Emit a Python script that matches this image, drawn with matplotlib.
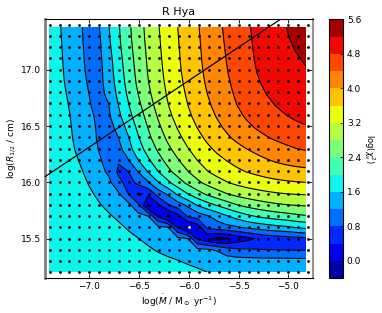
import numpy as np
import matplotlib
matplotlib.use("Agg")
import matplotlib.pyplot as plt

# log(chi^2), rows from the top (high R) to the bottom
chi_rows = [
    [1.80,1.62,1.44,1.27,1.05,1.17,1.59,1.98,2.34,2.65,2.93,3.19,3.40,3.61,3.79,3.98,4.15,4.32,4.48,4.62,4.76,4.88,4.99,5.10,5.21,5.30,5.39],
    [1.81,1.64,1.46,1.28,1.07,1.13,1.56,1.95,2.31,2.63,2.91,3.16,3.38,3.59,3.77,3.95,4.13,4.30,4.46,4.60,4.74,4.86,4.97,5.07,5.17,5.27,5.36],
    [1.82,1.65,1.47,1.30,1.08,1.11,1.50,1.92,2.28,2.59,2.88,3.14,3.36,3.58,3.75,3.94,4.11,4.28,4.43,4.57,4.73,4.85,4.96,5.05,5.13,5.21,5.28],
    [1.83,1.66,1.48,1.31,1.10,1.09,1.43,1.87,2.23,2.56,2.86,3.12,3.34,3.56,3.74,3.93,4.10,4.26,4.42,4.56,4.70,4.84,4.93,5.01,5.09,5.16,5.23],
    [1.84,1.67,1.50,1.33,1.12,1.07,1.41,1.83,2.17,2.54,2.83,3.09,3.32,3.54,3.73,3.91,4.08,4.23,4.39,4.54,4.68,4.81,4.90,4.98,5.06,5.13,5.21],
    [1.85,1.69,1.51,1.35,1.16,1.07,1.37,1.78,2.16,2.50,2.80,3.06,3.29,3.50,3.69,3.87,4.05,4.20,4.36,4.50,4.64,4.78,4.87,4.94,5.01,5.08,5.15],
    [1.88,1.72,1.55,1.38,1.20,1.05,1.30,1.72,2.09,2.41,2.74,3.02,3.24,3.46,3.65,3.84,4.01,4.16,4.31,4.45,4.58,4.71,4.82,4.88,4.94,5.00,5.06],
    [1.88,1.76,1.59,1.41,1.23,1.07,1.17,1.62,1.98,2.31,2.63,2.94,3.21,3.40,3.60,3.77,3.94,4.10,4.26,4.42,4.52,4.62,4.73,4.83,4.88,4.93,4.98],
    [1.88,1.78,1.62,1.44,1.27,1.13,1.14,1.53,1.91,2.22,2.53,2.85,3.13,3.35,3.54,3.72,3.88,4.04,4.19,4.34,4.46,4.55,4.64,4.73,4.82,4.87,4.91],
    [1.88,1.80,1.64,1.47,1.30,1.15,1.04,1.33,1.74,2.10,2.40,2.73,2.99,3.23,3.43,3.62,3.77,3.92,4.06,4.20,4.34,4.43,4.51,4.58,4.65,4.73,4.80],
    [1.89,1.81,1.66,1.49,1.32,1.16,1.02,1.19,1.53,2.00,2.31,2.62,2.87,3.11,3.32,3.50,3.67,3.82,3.96,4.08,4.20,4.30,4.41,4.47,4.53,4.59,4.65],
    [1.90,1.83,1.69,1.52,1.35,1.19,1.00,1.05,1.48,1.86,2.18,2.47,2.74,2.97,3.20,3.37,3.54,3.67,3.78,3.89,4.00,4.08,4.16,4.24,4.32,4.40,4.45],
    [1.90,1.86,1.76,1.59,1.42,1.25,1.07,0.83,1.17,1.64,1.94,2.25,2.50,2.74,2.98,3.20,3.37,3.48,3.58,3.68,3.77,3.86,3.96,4.05,4.09,4.13,4.17],
    [1.91,1.87,1.82,1.67,1.50,1.35,1.13,0.73,0.80,1.21,1.65,2.10,2.34,2.60,2.80,3.03,3.25,3.36,3.48,3.60,3.66,3.72,3.78,3.83,3.87,3.90,3.93],
    [1.92,1.89,1.84,1.74,1.57,1.47,1.32,0.92,0.65,0.88,1.14,1.59,2.04,2.28,2.52,2.75,2.92,3.07,3.17,3.26,3.34,3.40,3.46,3.50,3.54,3.57,3.60],
    [1.93,1.90,1.86,1.78,1.65,1.54,1.41,1.26,0.80,0.35,0.47,0.95,1.23,1.70,2.09,2.32,2.54,2.73,2.88,3.00,3.06,3.11,3.15,3.19,3.21,3.22,3.23],
    [1.95,1.93,1.89,1.83,1.73,1.63,1.53,1.42,1.32,0.88,-0.05,0.30,0.75,1.00,1.24,1.63,1.84,2.03,2.22,2.42,2.52,2.61,2.70,2.76,2.81,2.83,2.86],
    [1.97,1.95,1.92,1.87,1.79,1.72,1.64,1.55,1.46,1.35,1.22,0.38,-0.05,0.25,0.82,0.97,1.15,1.30,1.50,1.72,1.92,2.08,2.17,2.24,2.30,2.34,2.40],
    [1.98,1.97,1.95,1.90,1.85,1.80,1.74,1.67,1.56,1.47,1.39,1.31,1.23,0.40,-0.10,0.15,0.87,1.00,1.08,1.15,1.26,1.35,1.43,1.50,1.55,1.68,1.88],
    [1.99,1.98,1.96,1.93,1.90,1.87,1.83,1.77,1.69,1.62,1.54,1.46,1.38,1.30,1.20,0.35,0.10,-0.10,-0.05,0.18,0.28,0.43,0.55,0.60,0.64,0.68,0.72],
    [1.99,1.98,1.97,1.95,1.93,1.90,1.86,1.82,1.76,1.70,1.64,1.56,1.50,1.44,1.37,1.30,1.24,1.16,0.96,0.86,0.84,0.82,0.80,0.80,0.78,0.77,0.78],
    [1.99,1.99,1.98,1.97,1.95,1.93,1.90,1.87,1.84,1.80,1.75,1.71,1.66,1.62,1.56,1.53,1.50,1.47,1.42,1.38,1.36,1.35,1.34,1.33,1.33,1.32,1.32],
    [1.99,1.99,1.99,1.98,1.97,1.96,1.95,1.93,1.91,1.89,1.86,1.83,1.80,1.77,1.73,1.68,1.62,1.57,1.54,1.52,1.51,1.50,1.50,1.49,1.49,1.49,1.49],
]

mdot_grid = np.arange(-7.4, -4.75, 0.1)
r_grid = np.arange(15.2, 17.45, 0.1)
best_mdot = [-6.0]
best_r = [15.6]
line_mdot = [-7.446, -5.08]
line_r = [16.05, 17.447]
levels = np.arange(-0.4, 5.7, 0.4)
cbar_ticks = np.arange(0.0, 5.7, 0.8)
xticks = [-7.0, -6.5, -6.0, -5.5, -5.0]
yticks = [15.5, 16.0, 16.5, 17.0]


def soften(z):
    """Take the reading noise out of the contours, leaving the valley alone."""
    p = np.pad(z, 1, mode="edge")
    kern = np.array([1., 2., 1.])/4
    s = sum(kern[i]*kern[j]*p[i:i+z.shape[0], j:j+z.shape[1]] for i in range(3) for j in range(3))
    keep = np.clip((1.7 - s)/0.5, 0, 1)
    return keep*z + (1-keep)*s


W, H = 382.0, 313.0
fig = plt.figure(figsize=(W/100, H/100), dpi=100)
ax = fig.add_axes([45/W, 1-278/H, (312.7-45)/W, (278-19.3)/H])
cax = fig.add_axes([329/W, 1-278/H, 13.7/W, (278-19.3)/H])

chi = soften(np.array(chi_rows)[::-1])
# the coloured area stops just short of the last column and row of dots
xc = np.linspace(-7.4, -4.825, chi.shape[1])
yc = np.linspace(15.205, 17.376, chi.shape[0])

cf = ax.contourf(xc, yc, chi, levels=levels, cmap="jet")
ax.contour(xc, yc, chi, levels=levels, colors="k", linewidths=0.8)

mx, my = np.meshgrid(mdot_grid, r_grid)
ax.scatter(mx.ravel(), my.ravel(), s=4, c="k", linewidths=0, zorder=3)
ax.scatter(best_mdot, best_r, s=4, c="w", linewidths=0, zorder=4)
ax.plot(line_mdot, line_r, "k-", lw=0.9, zorder=3)

ax.set_xlim(-7.446, -4.755)
ax.set_ylim(15.151, 17.447)
ax.set_xticks(xticks)
ax.set_yticks(yticks)
ax.set_yticklabels(["%.1f" % v for v in yticks])
ax.tick_params(direction="in", length=3, width=0.6, top=True, right=True, labelsize=6.5, pad=3)
ax.set_title("R Hya", fontsize=8, pad=3)
ax.set_xlabel(r"log($\dot{M}$ / M$_\odot$ yr$^{-1}$)", fontsize=6.5, labelpad=1)
ax.set_ylabel(r"log($R_{1/2}$ / cm)", fontsize=6.5, labelpad=2)

ax.spines["left"].set_color("#808080")
ax.spines["left"].set_linewidth(2.0)
ax.spines["right"].set_color("#808080")
ax.spines["right"].set_linewidth(1.2)

cb = fig.colorbar(cf, cax=cax, ticks=cbar_ticks)
cb.ax.tick_params(direction="in", length=2, width=0.5, labelsize=6.5, pad=3)
cb.set_label(r"log($\chi^2_\nu$)", fontsize=6, rotation=270, labelpad=11)
cb.outline.set_linewidth(0.8)

fig.savefig("out.png", dpi=100)
